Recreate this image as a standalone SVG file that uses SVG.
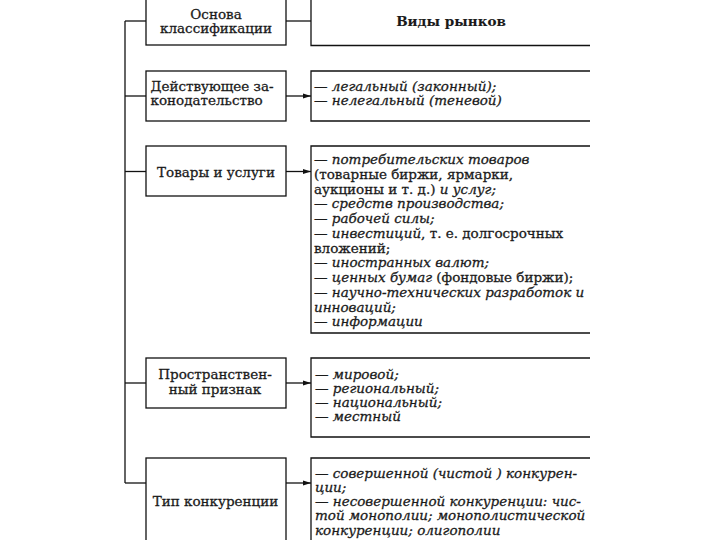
<svg xmlns="http://www.w3.org/2000/svg" width="720" height="540" viewBox="0 0 720 540">
<defs>
<marker id="ah" markerWidth="8" markerHeight="6" refX="8" refY="3" orient="auto" markerUnits="userSpaceOnUse">
<path d="M0,0.5 L8,3 L0,5.5 Z" fill="#111"/>
</marker>
<style>
.box{fill:#fff;stroke:#111;stroke-width:1.3}
.ln{fill:none;stroke:#111;stroke-width:1.3}
.lt{font-family:"DejaVu Serif","Liberation Serif",serif;font-size:13.5px;fill:#1a1a1a;stroke:#1a1a1a;stroke-width:0.3}
.c{text-anchor:middle}
.rt{font-family:"DejaVu Serif","Liberation Serif",serif;font-size:13.5px;fill:#1a1a1a;stroke:#1a1a1a;stroke-width:0.3;font-style:italic}
.up{font-style:normal}
.b{font-weight:bold;stroke-width:0.1}
</style>
</defs>
<rect width="720" height="540" fill="#fff"/>
<g id="connectors">
<path class="ln" d="M125,21 V483"/>
<path class="ln" d="M125,21 H146"/>
<path class="ln" d="M125,96 H146"/>
<path class="ln" d="M125,171.5 H146"/>
<path class="ln" d="M125,383 H146"/>
<path class="ln" d="M125,483 H146"/>
<path class="ln" d="M286,21 H311"/>
<path class="ln" d="M286,96 H311" marker-end="url(#ah)"/>
<path class="ln" d="M286,171.5 H311" marker-end="url(#ah)"/>
<path class="ln" d="M286,383 H311" marker-end="url(#ah)"/>
<path class="ln" d="M286,483 H311" marker-end="url(#ah)"/>
</g>
<g id="n-osnova">
<rect class="box" x="146" y="-2" width="140" height="47"/>
<text class="lt c" x="216" y="18.5">Основа</text>
<text class="lt c" x="216" y="33">классификации</text>
</g>
<g id="n-vidy">
<path class="ln" d="M311,-2 V45.5 H590"/>
<text class="lt c b" x="451" y="25.5">Виды рынков</text>
</g>
<g id="n-zakon">
<rect class="box" x="146" y="71" width="140" height="50"/>
<text class="lt" x="150.5" y="91">Действующее за-</text>
<text class="lt" x="150.5" y="105">конодательство</text>
</g>
<g id="n-zakon-r">
<path class="ln" d="M590,71 H311 V121 H590"/>
<text class="rt" x="314" y="91">— легальный (законный);</text>
<text class="rt" x="314" y="105">— нелегальный (теневой)</text>
</g>
<g id="n-tovary">
<rect class="box" x="146" y="146" width="140" height="50"/>
<text class="lt c" x="216" y="176.5">Товары и услуги</text>
</g>
<g id="n-tovary-r">
<path class="ln" d="M590,146 H311 V333 H590"/>
<text class="rt" x="314" y="164">— потребительских товаров</text>
<text class="rt" x="314" y="178.7"><tspan class="up">(товарные биржи, ярмарки,</tspan></text>
<text class="rt" x="314" y="193.5"><tspan class="up">аукционы и т. д.)</tspan> и услуг;</text>
<text class="rt" x="314" y="208.2">— средств производства;</text>
<text class="rt" x="314" y="223">— рабочей силы;</text>
<text class="rt" x="314" y="237.7">— инвестиций<tspan class="up">, т. е. долгосрочных</tspan></text>
<text class="rt" x="314" y="252.5"><tspan class="up">вложений;</tspan></text>
<text class="rt" x="314" y="267.2">— иностранных валют;</text>
<text class="rt" x="314" y="282">— ценных бумаг <tspan class="up">(фондовые биржи);</tspan></text>
<text class="rt" x="314" y="296.7">— научно-технических разработок и</text>
<text class="rt" x="314" y="311.5">инноваций;</text>
<text class="rt" x="314" y="326.2">— информации</text>
</g>
<g id="n-prostr">
<rect class="box" x="146" y="358" width="140" height="50"/>
<text class="lt c" x="215" y="378.5">Пространствен-</text>
<text class="lt c" x="215" y="393.5">ный признак</text>
</g>
<g id="n-prostr-r">
<path class="ln" d="M590,358 H311 V437 H590"/>
<text class="rt" x="315" y="378.5">— мировой;</text>
<text class="rt" x="315" y="392.8">— региональный;</text>
<text class="rt" x="315" y="407">— национальный;</text>
<text class="rt" x="315" y="421.3">— местный</text>
</g>
<g id="n-konk">
<rect class="box" x="146" y="458" width="140" height="90"/>
<text class="lt c" x="215.5" y="506">Тип конкуренции</text>
</g>
<g id="n-konk-r">
<path class="ln" d="M590,458 H311 V545"/>
<text class="rt" x="315" y="478">— совершенной (чистой ) конкурен-</text>
<text class="rt" x="315" y="492">ции;</text>
<text class="rt" x="315" y="506">— несовершенной конкуренции: чис-</text>
<text class="rt" x="315" y="520.2">той монополии; монополистической</text>
<text class="rt" x="315" y="534.5">конкуренции; олигополии</text>
</g>
</svg>
